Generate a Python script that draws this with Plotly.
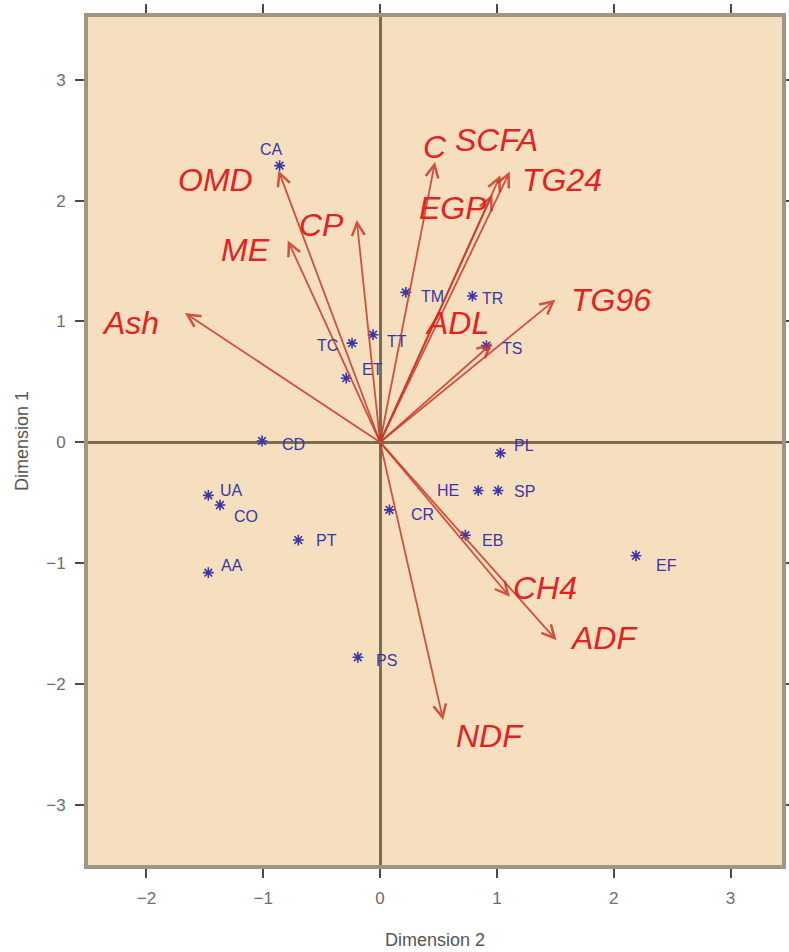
import plotly.graph_objects as go

# ---- data: sample scores (Dimension 2 = x, Dimension 1 = y) ----
samples = ["CA", "TM", "TR", "TS", "TC", "TT", "ET", "CD", "PL", "HE", "SP",
           "UA", "CO", "PT", "AA", "CR", "EB", "EF", "PS"]
sx = [-0.86, 0.22, 0.79, 0.91, -0.24, -0.06, -0.29, -1.01, 1.03, 0.84, 1.01,
      -1.47, -1.37, -0.70, -1.47, 0.08, 0.73, 2.19, -0.19]
sy = [2.29, 1.24, 1.21, 0.80, 0.82, 0.89, 0.53, 0.01, -0.09, -0.40, -0.40,
      -0.44, -0.52, -0.81, -1.08, -0.56, -0.77, -0.94, -1.78]

# ---- data: variable loadings (arrow tips) ----
variables = ["OMD", "CP", "ME", "Ash", "C", "EGP", "SCFA", "TG24", "TG96",
             "ADL", "CH4", "ADF", "NDF"]
vx = [-0.87, -0.20, -0.79, -1.67, 0.47, 0.96, 1.03, 1.11, 1.50, 0.96, 1.11, 1.51, 0.54]
vy = [2.25, 1.84, 1.67, 1.07, 2.32, 2.05, 2.21, 2.24, 1.18, 0.82, -1.28, -1.64, -2.30]
# where each variable name is written
lx = [-1.41, -0.50, -1.15, -2.14, 0.47, 0.62, 1.00, 1.56, 1.98, 0.66, 1.41, 1.92, 0.94]
ly = [2.17, 1.80, 1.59, 0.99, 2.44, 1.94, 2.50, 2.17, 1.18, 0.99, -1.21, -1.62, -2.43]

xticks = [-2, -1, 0, 1, 2, 3]
yticks = [-3, -2, -1, 0, 1, 2, 3]

# label placement for sample names: (xanchor, xshift, yshift)
label_place = {
    "CA": ("center", -8, 16), "TM": ("left", 13, -4), "TR": ("left", 8, -2),
    "TS": ("left", 14, -3), "TC": ("right", -12, -2), "TT": ("left", 12, -7),
    "ET": ("left", 14, 9), "CD": ("left", 18, -3), "PL": ("left", 12, 8),
    "HE": ("right", -17, 0), "SP": ("left", 14, -1), "UA": ("left", 10, 5),
    "CO": ("left", 12, -11), "PT": ("left", 16, 0), "AA": ("left", 11, 7),
    "CR": ("left", 20, -5), "EB": ("left", 15, -5), "EF": ("left", 18, -10),
    "PS": ("left", 16, -3),
}

FONT = "Liberation Sans, Arial, sans-serif"
BLUE = "#3b36a6"
RED = "#e2231f"
ARROW = "rgba(205,55,40,0.85)"

fig = go.Figure()

fig.add_trace(go.Scatter(
    x=sx, y=sy, mode="markers",
    marker=dict(symbol="asterisk-open", size=9, color=BLUE,
                line=dict(color=BLUE, width=1.6)),
    hoverinfo="text", text=samples, showlegend=False,
))

annotations = []
for name, x, y in zip(variables, vx, vy):
    annotations.append(dict(
        x=x, y=y, ax=0, ay=0, xref="x", yref="y", axref="x", ayref="y",
        text="", showarrow=True, arrowhead=5, arrowsize=1.4, arrowwidth=1.8,
        arrowcolor=ARROW, standoff=0,
    ))
for name, x, y in zip(variables, lx, ly):
    annotations.append(dict(
        x=x, y=y, xref="x", yref="y", text="<i>" + name + "</i>", showarrow=False,
        font=dict(family=FONT, size=32, color=RED),
        xanchor="center", yanchor="middle",
    ))

for name, x, y in zip(samples, sx, sy):
    anc, xs, ys = label_place[name]
    annotations.append(dict(
        x=x, y=y, xref="x", yref="y", text=name, showarrow=False,
        font=dict(family=FONT, size=16, color=BLUE),
        xanchor=anc, yanchor="middle", xshift=xs, yshift=ys,
    ))

def fmt(v):
    return ("\u2212" + str(-v)) if v < 0 else str(v)

axis_common = dict(
    showgrid=False, zeroline=True, zerolinecolor="#7d6c52", zerolinewidth=3,
    showline=True, linecolor="#a09484", linewidth=4, mirror="ticks",
    ticks="outside", ticklen=9, tickwidth=2, tickcolor="#4a4a4a",
    tickfont=dict(family=FONT, size=17, color="#6e6e6e"),
    automargin=False,
)

fig.update_layout(
    width=789, height=952,
    margin=dict(l=88, r=7, t=17, b=87),
    paper_bgcolor="white", plot_bgcolor="#f6dfbf",
    annotations=annotations,
    xaxis=dict(range=[-2.5, 3.44], tickvals=xticks, ticktext=[fmt(v) for v in xticks],
               title=dict(text="Dimension 2", standoff=27,
                          font=dict(family=FONT, size=18, color="#555")),
               ticklabelstandoff=6, **axis_common),
    yaxis=dict(range=[-3.5, 3.52], tickvals=yticks, ticktext=[fmt(v) for v in yticks],
               title=dict(text="Dimension 1", standoff=14,
                          font=dict(family=FONT, size=18, color="#555")),
               ticklabelstandoff=6, **axis_common),
)

fig.write_html("out.html")
